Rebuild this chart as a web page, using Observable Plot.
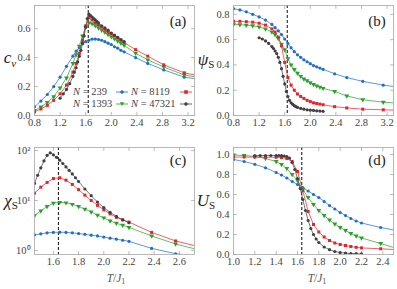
<!DOCTYPE html>
<html><head><meta charset="utf-8">
<script src="https://cdn.jsdelivr.net/npm/d3@7"></script>
<script src="https://cdn.jsdelivr.net/npm/@observablehq/plot@0.6"></script>
<style>
body{margin:0;background:#fff;}
#root{position:relative;width:397px;height:289px;overflow:hidden;font-family:"Liberation Serif",serif;color:#222;}
.panel{position:absolute;}
.lab{position:absolute;white-space:nowrap;line-height:1;}
.ylab{font-size:17px;}
.ylab sub{font-style:normal;font-size:11px;vertical-align:-3px;}
.plab{font-size:15px;}
.xlab{font-size:11.5px;color:#555;}
.xlab sub{font-size:8px;vertical-align:-2px;}
.leg{font-size:10.5px;color:#444;}
</style></head><body><div id="root"></div>
<script>
// ---------- data ----------
const Tc = 1.64;
const sizes = ["239", "1393", "8119", "47321"];
const T_grid = [0.8,0.9,1.0,1.1,1.2,1.3,1.4,1.45,1.5,1.55,1.6,1.65,1.7,1.75,1.8,1.85,1.9,1.95,2.0,2.05,2.1,2.15,2.2,2.38,2.57,2.82,3.14];
const T_big = [1.2,1.25,1.3,1.35,1.4,1.425,1.45,1.475,1.5,1.525,1.55,1.575,1.6,1.625,1.65,1.675,1.7,1.725,1.75,1.775,1.8,1.85,1.9,1.95,2.0,2.05,2.1,2.15,2.2];
const T_tail_ab = 3.3, T_tail_c = 2.72, T_tail_d = 2.5;

const cv_239   = [0.06,0.10,0.145,0.20,0.265,0.34,0.41,0.445,0.47,0.495,0.51,0.52,0.528,0.528,0.525,0.52,0.51,0.50,0.49,0.475,0.465,0.45,0.44,0.40,0.36,0.315,0.265];
const cv_1393  = [0.035,0.06,0.09,0.13,0.19,0.26,0.36,0.42,0.48,0.55,0.61,0.64,0.635,0.62,0.605,0.59,0.575,0.56,0.545,0.53,0.515,0.50,0.485,0.43,0.385,0.335,0.28];
const cv_8119  = [0.025,0.045,0.07,0.105,0.15,0.21,0.30,0.36,0.43,0.52,0.62,0.675,0.66,0.64,0.625,0.61,0.595,0.58,0.565,0.55,0.535,0.52,0.505,0.455,0.41,0.35,0.295];
const cv_47321 = [0.12,0.15,0.18,0.22,0.27,0.30,0.33,0.37,0.41,0.45,0.50,0.55,0.61,0.67,0.70,0.69,0.68,0.67,0.66,0.65,0.64,0.62,0.605,0.59,0.57,0.555,0.54,0.525,0.51];
const cv_tail  = [0.255,0.268,0.28];

const psi_239   = [0.845,0.835,0.82,0.80,0.78,0.755,0.72,0.695,0.67,0.64,0.605,0.57,0.535,0.505,0.48,0.46,0.44,0.425,0.41,0.395,0.385,0.375,0.365,0.33,0.30,0.27,0.24];
const psi_1393  = [0.72,0.718,0.715,0.71,0.70,0.685,0.66,0.64,0.61,0.565,0.52,0.45,0.40,0.365,0.335,0.31,0.29,0.275,0.26,0.245,0.235,0.225,0.215,0.19,0.155,0.125,0.105];
const psi_8119  = [0.745,0.745,0.742,0.738,0.73,0.715,0.685,0.66,0.62,0.55,0.42,0.30,0.24,0.20,0.17,0.15,0.135,0.12,0.11,0.10,0.095,0.09,0.085,0.07,0.06,0.05,0.045];
const psi_47321 = [0.615,0.605,0.59,0.57,0.545,0.53,0.51,0.49,0.46,0.42,0.37,0.31,0.25,0.19,0.15,0.12,0.10,0.088,0.078,0.07,0.064,0.056,0.05,0.045,0.042,0.04,0.037,0.035,0.033];
const psi_tail  = [0.23,0.10,0.043];

const chi_239   = [null,null,null,null,null,null,1.9,2.05,2.15,2.25,2.3,2.32,2.3,2.25,2.18,2.1,2.02,1.95,1.85,1.76,1.68,1.6,1.52,1.1,0.86,null,null];
const chi_1393  = [null,null,null,null,null,null,4.0,5.0,6.2,7.6,8.8,9.2,9.0,8.4,7.6,6.7,5.9,5.1,4.5,3.9,3.5,3.2,2.9,1.95,1.35,null,null];
const chi_8119  = [null,null,null,null,null,null,11,14,18.5,23,27.5,28.5,25.5,21,16.5,12.8,10.0,8.0,6.5,5.4,4.6,4.1,3.7,2.3,1.55,null,null];
const chi_47321 = [null,null,null,null,14,17,22,32,45,62,80,90,82,73,64,55,47,40,34,28.5,24,17,12.5,9.3,7.2,5.8,4.8,4.1,3.6];
const chi_tail  = [0.78,1.08,1.25];

const U_239   = [null,null,0.95,0.93,0.902,0.867,0.82,0.795,0.765,0.73,0.70,0.67,0.635,0.60,0.57,0.53,0.49,0.455,0.42,0.39,0.36,0.335,0.315,0.27,null,null,null];
const U_1393  = [null,null,0.995,0.99,0.98,0.96,0.93,0.90,0.86,0.80,0.74,0.65,0.57,0.50,0.44,0.39,0.345,0.305,0.27,0.24,0.21,0.185,0.165,0.11,null,null,null];
const U_8119  = [null,null,0.975,0.975,0.974,0.973,0.972,0.97,0.96,0.93,0.83,0.64,0.43,0.30,0.225,0.175,0.14,0.115,0.10,0.09,0.08,0.072,0.066,0.057,null,null,null];
const U_47321 = [0.99,0.99,0.99,0.99,0.99,0.99,0.988,0.985,0.98,0.965,0.92,0.85,0.76,0.66,0.55,0.44,0.34,0.26,0.20,0.155,0.12,0.075,0.048,0.03,0.02,0.014,0.01,0.008,0.006];
const U_tail  = [0.245,0.07,0.05];

const xTicks_ab = [0.8,1.2,1.6,2.0,2.4,2.8,3.2];
const yTicks_a = [0,0.2,0.4,0.6];
const yTicks_b = [0,0.2,0.4,0.6,0.8];
const xTicks_c = [1.6,1.8,2.0,2.2,2.4,2.6];
const yTicks_c = [1,10,100];
const xTicks_d = [1.0,1.2,1.4,1.6,1.8,2.0,2.2,2.4];
const yTicks_d = [0,0.2,0.4,0.6,0.8,1.0];

// ---------- styles ----------
const colors = ["#1f6fc5","#2ca02c","#e3242b","#404040"];
const symbols = ["circle","triangle","square","circle"];
const rotates = [0,180,0,0];
const radii = [1.6,1.8,1.7,1.6];
const frameColor = "#a8a8a8";

function rowsOf(T, v) {
  return T.map((t, i) => ({t, v: v[i]})).filter(d => d.v != null);
}

const tickShape = {draw(ctx, l) { ctx.moveTo(0, 0); ctx.lineTo(0, -l); }};
const sup = {"0":"⁰","1":"¹","2":"²"};

function makePanel(cfg) {
  const fh = cfg.fh, h = 5 + fh + 20;
  const ts = {stroke: frameColor, strokeWidth: 0.8, length: 3, shape: tickShape, anchor: "start"};
  const marks = [
    Plot.vector(cfg.xTicks, {x: d => d, frameAnchor: "bottom", rotate: 0, ...ts}),
    Plot.vector(cfg.xTicks, {x: d => d, frameAnchor: "top", rotate: 180, ...ts}),
    Plot.vector(cfg.yTicks, {y: d => d, frameAnchor: "left", rotate: 90, ...ts}),
    Plot.vector(cfg.yTicks, {y: d => d, frameAnchor: "right", rotate: -90, ...ts}),
    Plot.ruleX([Tc], {stroke: "#222", strokeWidth: 1.1, strokeDasharray: "3,2"})
  ];
  cfg.series.forEach((s, k) => {
    const pts = rowsOf(s.T, s.v);
    const line = s.tail != null ? pts.concat([{t: cfg.tailT, v: s.tail}]) : pts;
    marks.push(Plot.line(line, {x: "t", y: "v", stroke: colors[k], strokeWidth: 0.8, strokeOpacity: 0.9, clip: true}));
  });
  cfg.series.forEach((s, k) => {
    marks.push(Plot.dot(rowsOf(s.T, s.v), {x: "t", y: "v", fill: colors[k], symbol: symbols[k], rotate: rotates[k], r: radii[k], clip: true}));
  });
  marks.push(Plot.frame({stroke: frameColor, strokeWidth: 0.8}));
  marks.push(Plot.axisX(cfg.xTicks, {label: null, tickSize: 0, tickPadding: 3, tickFormat: d3.format(".1f"), fill: "#444"}));
  marks.push(Plot.axisY(cfg.yTicks, {label: null, tickSize: 0, tickPadding: 4, tickFormat: cfg.yFormat, fill: "#444"}));
  const svg = Plot.plot({
    width: 198, height: h,
    marginLeft: 34, marginRight: 4, marginTop: 5, marginBottom: 20,
    x: {domain: cfg.xDomain},
    y: {domain: cfg.yDomain, type: cfg.yType || "linear"},
    style: {background: "transparent", fontFamily: "'Liberation Serif', serif", fontSize: "10.5px", overflow: "visible"},
    marks
  });
  svg.classList.add("panel");
  svg.style.left = cfg.left + "px";
  svg.style.top = cfg.top + "px";
  return svg;
}

const root = document.getElementById("root");
const f1 = d3.format(".1f");

root.appendChild(makePanel({
  left: 0, top: 0, fh: 110, xDomain: [0.8, 3.3], yDomain: [0, 0.76],
  xTicks: xTicks_ab, yTicks: yTicks_a, yFormat: f1, tailT: T_tail_ab,
  series: [
    {T: T_grid, v: cv_239, tail: cv_tail[0]},
    {T: T_grid, v: cv_1393, tail: cv_tail[1]},
    {T: T_grid, v: cv_8119, tail: cv_tail[2]},
    {T: T_big, v: cv_47321}
  ]
}));
root.appendChild(makePanel({
  left: 199, top: 0, fh: 110, xDomain: [0.8, 3.3], yDomain: [0, 0.87],
  xTicks: xTicks_ab, yTicks: yTicks_b, yFormat: f1, tailT: T_tail_ab,
  series: [
    {T: T_grid, v: psi_239, tail: psi_tail[0]},
    {T: T_grid, v: psi_1393, tail: psi_tail[1]},
    {T: T_grid, v: psi_8119, tail: psi_tail[2]},
    {T: T_big, v: psi_47321}
  ]
}));
root.appendChild(makePanel({
  left: 0, top: 142, fh: 107, xDomain: [1.45, 2.72], yDomain: [0.83, 115], yType: "log",
  xTicks: xTicks_c, yTicks: yTicks_c, yFormat: d => "10" + sup[String(Math.round(Math.log10(d)))], tailT: T_tail_c,
  series: [
    {T: T_grid, v: chi_239, tail: chi_tail[0]},
    {T: T_grid, v: chi_1393, tail: chi_tail[1]},
    {T: T_grid, v: chi_8119, tail: chi_tail[2]},
    {T: T_big, v: chi_47321}
  ]
}));
root.appendChild(makePanel({
  left: 199, top: 142, fh: 107, xDomain: [1.0, 2.5], yDomain: [0, 1.07],
  xTicks: xTicks_d, yTicks: yTicks_d, yFormat: f1, tailT: T_tail_d,
  series: [
    {T: T_grid, v: U_239, tail: U_tail[0]},
    {T: T_grid, v: U_1393, tail: U_tail[1]},
    {T: T_grid, v: U_8119, tail: U_tail[2]},
    {T: T_big, v: U_47321}
  ]
}));

// ---------- text labels ----------
function label(html, cls, x, y, anchor) {
  const d = document.createElement("div");
  d.className = "lab " + cls;
  d.innerHTML = html;
  d.style.left = x + "px";
  d.style.top = y + "px";
  d.style.transform = anchor === "start" ? "translate(0,-50%)" : "translate(-50%,-50%)";
  root.appendChild(d);
  return d;
}
label("<i>c<sub style='font-style:italic;vertical-align:-4px'>v</sub></i>", "ylab", 10, 59);
label("<i>ψ</i><sub>S</sub>", "ylab", 206, 60);
label("<i>χ</i><sub>S</sub>", "ylab", 11, 201);
label("<i>U</i><sub>S</sub>", "ylab", 206, 201);
label("(a)", "plab", 178, 21);
label("(b)", "plab", 377, 21);
label("(c)", "plab", 178, 160);
label("(d)", "plab", 377, 160);
label("<i>T</i>/<i>J</i><sub>1</sub>", "xlab", 116, 279);
label("<i>T</i>/<i>J</i><sub>1</sub>", "xlab", 317, 279);

// legend
function marker(k) {
  const shapes = [
    `<circle cx="7" cy="4" r="1.8" fill="${colors[0]}"/>`,
    `<path d="M4.8,2.3 L9.2,2.3 L7,5.9 Z" fill="${colors[1]}"/>`,
    `<rect x="5.2" y="2.2" width="3.6" height="3.6" fill="${colors[2]}"/>`,
    `<circle cx="7" cy="4" r="1.8" fill="${colors[3]}"/>`
  ];
  return `<svg width="14" height="8" style="vertical-align:middle;display:block"><line x1="1" y1="4" x2="13" y2="4" stroke="${colors[k]}" stroke-width="0.8"/>${shapes[k]}</svg>`;
}
const legPos = [[73, 92, 115], [73, 103.5, 115], [131, 92, 179], [131, 103.5, 179]];
[0, 1, 2, 3].forEach(k => {
  const [x, y, mx] = legPos[k];
  label(`<i>N</i> = ${sizes[k]}`, "leg", x, y, "start");
  label(marker(k), "leg", mx, y, "start");
});
</script></body></html>
